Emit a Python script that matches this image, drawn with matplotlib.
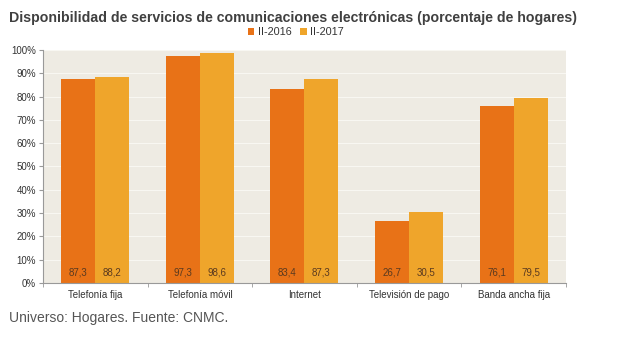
import numpy as np
import matplotlib
matplotlib.use("Agg")
import matplotlib.pyplot as plt

# datos
categorias = ["Telefonía fija", "Telefonía móvil", "Internet", "Televisión de pago", "Banda ancha fija"]
serie_2016 = [87.3, 97.3, 83.4, 26.7, 76.1]
serie_2017 = [88.2, 98.6, 87.3, 30.5, 79.5]
etiquetas_series = ["II-2016", "II-2017"]
yticks = [0, 10, 20, 30, 40, 50, 60, 70, 80, 90, 100]

col_2016 = "#E87217"
col_2017 = "#EFA52B"

plt.rcParams['font.family'] = ['Liberation Sans', 'DejaVu Sans']

fig = plt.figure(figsize=(6.4, 3.37), dpi=100)
ax = fig.add_axes([0.0672, 0.160, 0.817, 0.692])
ax.set_facecolor("#EEEBE3")

x = np.arange(len(categorias))
w = 0.325
b1 = ax.bar(x - w / 2, serie_2016, w, color=col_2016, zorder=2, label=etiquetas_series[0])
b2 = ax.bar(x + w / 2, serie_2017, w, color=col_2017, zorder=2, label=etiquetas_series[1])

for bars, vals in ((b1, serie_2016), (b2, serie_2017)):
    for r, v in zip(bars, vals):
        ax.text(r.get_x() + r.get_width() / 2, 2.3, f"{v:.1f}".replace(".", ","),
                ha="center", va="bottom", fontsize=7, color="#5A3A20", zorder=3)

ax.set_xlim(-0.5, len(categorias) - 0.5)
ax.set_ylim(0, 100)
ax.set_yticks(yticks)
ax.set_yticklabels([f"{t}%" for t in yticks], fontsize=7, color="#333333")
ax.yaxis.grid(True, color="#F8F7F2", linewidth=0.8, zorder=1)
ax.set_xticks(x)
ax.set_xticklabels(categorias, fontsize=7, color="#333333")
ax.tick_params(axis="x", length=0, pad=5)
ax.tick_params(axis="y", length=3, color="#999999", pad=2)
ax.set_xticks(np.arange(-0.5, len(categorias)), minor=True)
ax.tick_params(axis="x", which="minor", length=3, color="#999999")

for s in ["top", "right"]:
    ax.spines[s].set_visible(False)
ax.spines["left"].set_color("#999999")
ax.spines["bottom"].set_color("#999999")
ax.spines["left"].set_linewidth(0.8)
ax.spines["bottom"].set_linewidth(0.8)

fig.text(0.014, 0.948, "Disponibilidad de servicios de comunicaciones electrónicas (porcentaje de hogares)",
         fontsize=10.2, fontweight="bold", color="#404040", va="center")
fig.legend(loc="center", bbox_to_anchor=(0.462, 0.905), ncol=2, frameon=False, fontsize=7.8,
           handlelength=0.6, handleheight=0.6, handletextpad=0.3, columnspacing=0.8,
           labelcolor="#333333")
fig.text(0.014, 0.056, "Universo: Hogares. Fuente: CNMC.", fontsize=10, color="#555555", va="center")

fig.savefig("out.png", dpi=100, facecolor="white")
